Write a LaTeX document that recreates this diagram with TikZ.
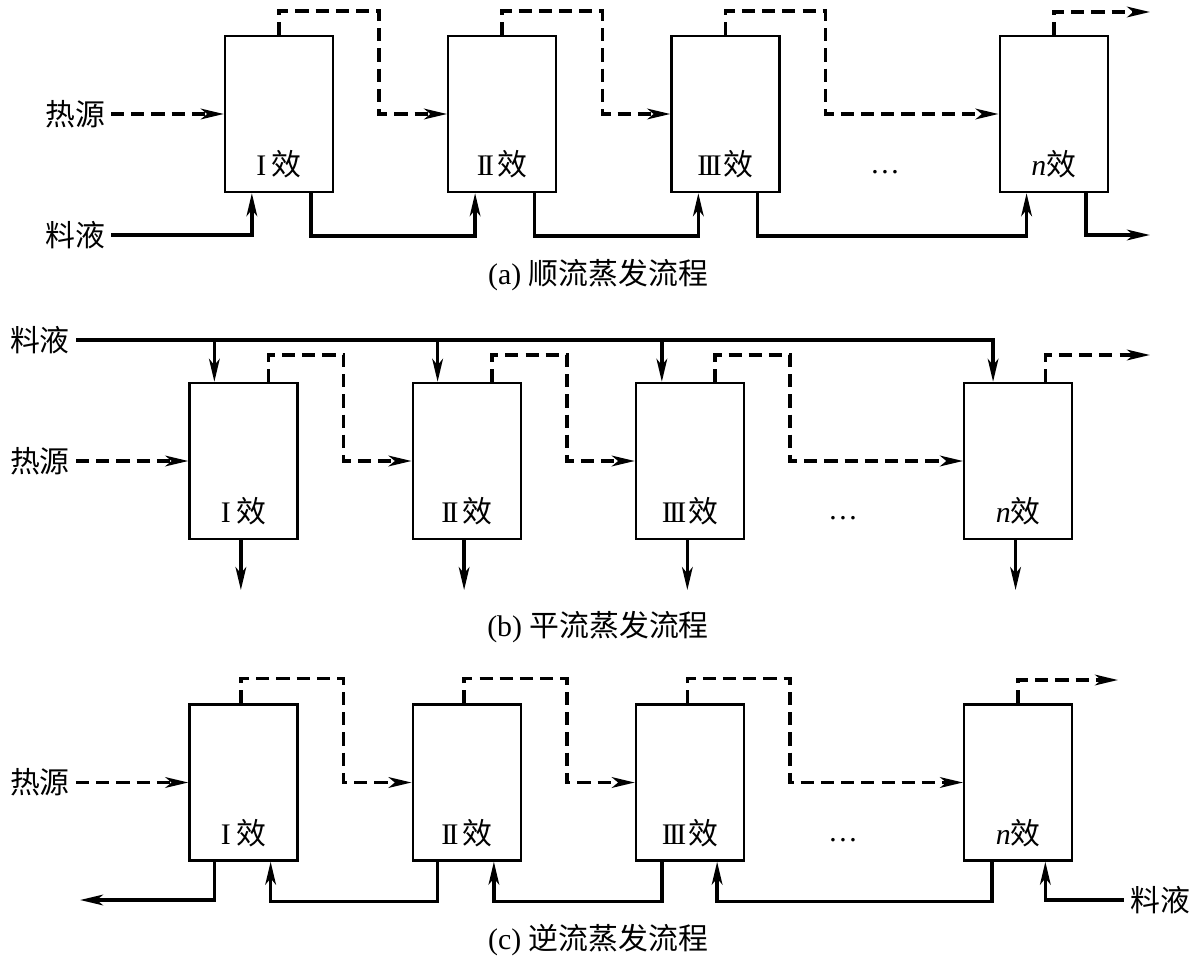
\documentclass[tikz,border=0pt]{standalone}
\usepackage{fontspec}
\setmainfont{Liberation Serif}
\newfontfamily\cjk{Noto Sans CJK SC}
\usetikzlibrary{positioning}
\usetikzlibrary{arrows.meta}
\newcommand{\RI}{I\kern3pt}
\newcommand{\RII}{I\kern-.09em I\kern2pt}
\newcommand{\RIII}{I\kern-.09em I\kern-.09em I\kern1pt}
\newcommand{\xiao}{{\cjk 效}}

\begin{document}
\begin{tikzpicture}[x=0.02cm,y=-0.02cm,
  every node/.style={font=\fontsize{17}{20}\selectfont},
  effect/.style={draw,line width=1.3pt,minimum width=2.16cm,minimum height=3.12cm,inner sep=0pt},
  steam/.style={line width=2.1pt,dash pattern=on 7.5pt off 4pt,->},
  liquor/.style={line width=2.1pt,->},
  >={Stealth[length=13pt,width=6pt,inset=3.5pt]}]
\useasboundingbox (0,0) rectangle (1199,959);

% (a) forward feed
\node (b1a) [effect] at (279,114) {};
\node (b2a) [effect,right=2.26cm of b1a] {};
\node (b3a) [effect,right=2.26cm of b2a] {};
\node (bna) [effect,right=4.36cm of b3a] {};
\node (t1a) [anchor=base] at ([yshift=0.35cm]b1a.south) {\RI\xiao};
\node (t2a) [anchor=base] at ([yshift=0.35cm]b2a.south) {\RII\xiao};
\node (t3a) [anchor=base] at ([yshift=0.35cm]b3a.south) {\RIII\xiao};
\node (tna) [anchor=base] at ([yshift=0.35cm]bna.south) {\textit{n}\xiao};
\node (dota) at (885,172) {\dots};

\node (hsa) at (75,114) {\cjk 热源};
\draw[steam] (hsa.east) -- (b1a.west);
\draw[steam] (b1a.north) -- ++(0,-24) -| ([xshift=0.9cm]b1a.east) -- (b2a.west);
\draw[steam] (b2a.north) -- ++(0,-24) -| ([xshift=0.9cm]b2a.east) -- (b3a.west);
\draw[steam] (b3a.north) -- ++(0,-24) -| ([xshift=0.9cm]b3a.east) -- (bna.west);
\coordinate (va) at (1150,12);
\draw[steam] (bna.north) |- (va);

\node (fda) at (75,235) {\cjk 料液};
\draw[liquor] (fda.east) -| ([xshift=0.56cm]b1a.south west);
\draw[liquor] ([xshift=-0.46cm]b1a.south east) -- ++(0,43) -| ([xshift=0.56cm]b2a.south west);
\draw[liquor] ([xshift=-0.46cm]b2a.south east) -- ++(0,43) -| ([xshift=0.56cm]b3a.south west);
\draw[liquor] ([xshift=-0.46cm]b3a.south east) -- ++(0,43) -| ([xshift=0.56cm]bna.south west);
\coordinate (la) at (1150,235);
\draw[liquor] ([xshift=-0.46cm]bna.south east) |- (la);
\node (capa) at (598,275) {(a) {\cjk 顺流蒸发流程}};

% (b) parallel feed
\node (b1b) [effect] at (243.5,461) {};
\node (b2b) [effect,right=2.26cm of b1b] {};
\node (b3b) [effect,right=2.26cm of b2b] {};
\node (bnb) [effect,right=4.36cm of b3b] {};
\node (t1b) [anchor=base] at ([yshift=0.35cm]b1b.south) {\RI\xiao};
\node (t2b) [anchor=base] at ([yshift=0.35cm]b2b.south) {\RII\xiao};
\node (t3b) [anchor=base] at ([yshift=0.35cm]b3b.south) {\RIII\xiao};
\node (tnb) [anchor=base] at ([yshift=0.35cm]bnb.south) {\textit{n}\xiao};
\node (dotb) at (843,518) {\dots};

\node (fdb) at (40,340) {\cjk 料液};
\coordinate (d1b) at ([xshift=0.52cm]b1b.north west);
\coordinate (d2b) at ([xshift=0.52cm]b2b.north west);
\coordinate (d3b) at ([xshift=0.54cm]b3b.north west);
\coordinate (dnb) at ([xshift=0.6cm]bnb.north west);
\draw[liquor] (fdb.east) -| (dnb);
\draw[liquor] (d1b |- fdb) -- (d1b);
\draw[liquor] (d2b |- fdb) -- (d2b);
\draw[liquor] (d3b |- fdb) -- (d3b);

\node (hsb) at (40,461) {\cjk 热源};
\draw[steam] (hsb.east) -- (b1b.west);
\draw[steam] ([xshift=-0.6cm]b1b.north east) -- ++(0,-27) -| ([xshift=0.9cm]b1b.east) -- (b2b.west);
\draw[steam] ([xshift=-0.6cm]b2b.north east) -- ++(0,-27) -| ([xshift=0.9cm]b2b.east) -- (b3b.west);
\draw[steam] ([xshift=-0.6cm]b3b.north east) -- ++(0,-27) -| ([xshift=0.9cm]b3b.east) -- (bnb.west);
\coordinate (vb) at (1150,355);
\draw[steam] ([xshift=-0.56cm]bnb.north east) |- (vb);

\foreach \b in {b1b,b2b,b3b,bnb}
  \draw[liquor] ([xshift=-1.5pt]\b.south) -- ([xshift=-1.5pt,yshift=-1cm]\b.south);
\node (capb) at (598,627) {(b) {\cjk 平流蒸发流程}};

% (c) backward feed
\node (b1c) [effect] at (243.5,782.5) {};
\node (b2c) [effect,right=2.26cm of b1c] {};
\node (b3c) [effect,right=2.26cm of b2c] {};
\node (bnc) [effect,right=4.36cm of b3c] {};
\node (t1c) [anchor=base] at ([yshift=0.35cm]b1c.south) {\RI\xiao};
\node (t2c) [anchor=base] at ([yshift=0.35cm]b2c.south) {\RII\xiao};
\node (t3c) [anchor=base] at ([yshift=0.35cm]b3c.south) {\RIII\xiao};
\node (tnc) [anchor=base] at ([yshift=0.35cm]bnc.south) {\textit{n}\xiao};
\node (dotc) at (843,840) {\dots};

\node (hsc) at (40,782.5) {\cjk 热源};
\draw[steam] (hsc.east) -- (b1c.west);
\draw[steam] ([xshift=-1.5pt]b1c.north) -- ++(0,-25) -| ([xshift=0.9cm]b1c.east) -- (b2c.west);
\draw[steam] ([xshift=-1.5pt]b2c.north) -- ++(0,-25) -| ([xshift=0.9cm]b2c.east) -- (b3c.west);
\draw[steam] ([xshift=-1.5pt]b3c.north) -- ++(0,-25) -| ([xshift=0.9cm]b3c.east) -- (bnc.west);
\coordinate (vc) at (1118,680);
\draw[steam] (bnc.north) |- (vc);

\node (fdc) at (1160,900) {\cjk 料液};
\draw[liquor] (fdc.west) -| ([xshift=-0.56cm]bnc.south east);
\draw[liquor] ([xshift=0.58cm]bnc.south west) -- ++(0,40) -| ([xshift=-0.56cm]b3c.south east);
\draw[liquor] ([xshift=0.54cm]b3c.south west) -- ++(0,40) -| ([xshift=-0.56cm]b2c.south east);
\draw[liquor] ([xshift=0.52cm]b2c.south west) -- ++(0,40) -| ([xshift=-0.56cm]b1c.south east);
\coordinate (lc) at (80,900);
\draw[liquor] ([xshift=0.52cm]b1c.south west) |- (lc);
\node (capc) at (598,940) {(c) {\cjk 逆流蒸发流程}};

\end{tikzpicture}
\end{document}
